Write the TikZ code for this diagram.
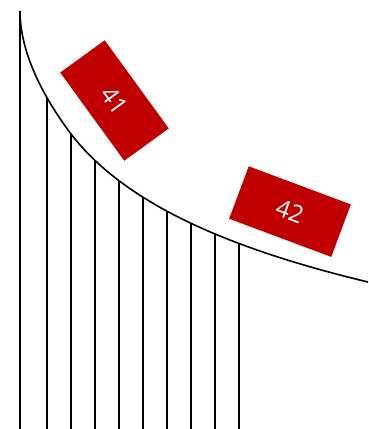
\documentclass[tikz,border=0pt]{standalone}
\usepackage{fontspec}
\setmainfont{Open Sans}
\usetikzlibrary{intersections}
\definecolor{boxred}{RGB}{192,0,0}
\tikzset{
  redbox/.style={fill=boxred, draw=none, text=white, minimum width=109pt, minimum height=55pt,
    inner sep=0pt, font=\fontsize{24}{24}\selectfont},
  curveline/.style={line width=1.6pt, black},
  rib/.style={line width=1.7pt, black}
}
\begin{document}
\begin{tikzpicture}[x=1pt,y=-1pt]
\useasboundingbox (0,0) rectangle (368,429);
\draw[curveline, name path=crv] (20,11) .. controls (20,56) and (47,102) .. (71,134)
   .. controls (122.9,201.2) and (222.2,247) .. (368,282);
\foreach \i/\x in {1/47,2/71,3/95,4/119,5/143,6/167,7/191,8/215,9/239}{
  \path[name path=v\i] (\x,0) -- (\x,429);
  \path[name intersections={of=crv and v\i, by={t\i}}];
  \coordinate (b\i) at (\x,429);
  \draw[rib] (t\i) -- (b\i);
}
\coordinate (t0) at (20,11);
\coordinate (b0) at (20,429);
\draw[rib] (t0) -- (b0);
\node[redbox, rotate=-54] (n41) at (114.5,100.5) {41};
\node[redbox, minimum height=56pt, rotate=-20.5] (n42) at (290,211.6) {42};
\end{tikzpicture}
\end{document}
